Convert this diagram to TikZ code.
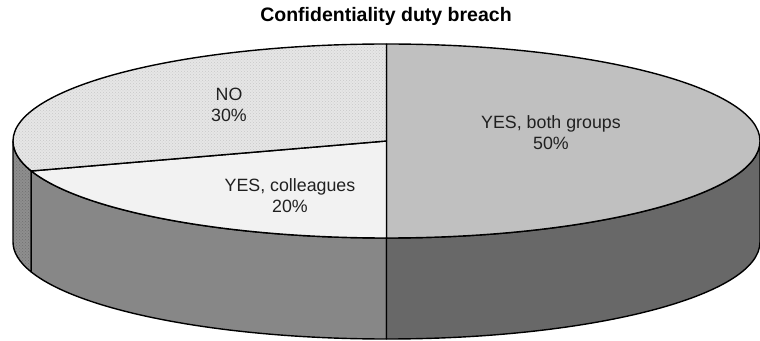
\documentclass[tikz,border=0pt]{standalone}
\usepackage{fontspec}
\setmainfont{Liberation Sans}
\usetikzlibrary{patterns}
\definecolor{notop}{HTML}{E6E6E6}
\definecolor{nodots}{HTML}{C8C8C8}
\definecolor{noside}{HTML}{8E8E8E}
\definecolor{nosidedots}{HTML}{707070}
\definecolor{coltop}{HTML}{F2F2F2}
\definecolor{colside}{HTML}{878787}
\definecolor{bothtop}{HTML}{C0C0C0}
\definecolor{bothside}{HTML}{686868}
\definecolor{lbltext}{HTML}{202020}
\begin{document}
\begin{tikzpicture}[x=1pt,y=1pt,
  slice/.style={draw=black, line width=1.4pt, line join=round},
  lbl/.style={align=center, font=\fontsize{17.8}{21}\selectfont, text=lbltext, inner sep=0pt},
  ttl/.style={font=\fontsize{19.5}{23}\selectfont\bfseries, text=black, inner sep=0pt}]
\useasboundingbox (0,0) rectangle (760,340);
\fill[white] (0,0) rectangle (760,340);
\coordinate (C) at (386.5,199);
% side faces
\draw[slice, preaction={fill=noside}, preaction={pattern=crosshatch dots, pattern color=nosidedots}]
  (C) ++(180:373.5 and 97) arc[start angle=180, end angle=198, x radius=373.5, y radius=97]
  -- ++(0,-101) arc[start angle=198, end angle=180, x radius=373.5, y radius=97] -- cycle;
\draw[slice, fill=colside]
  (C) ++(198:373.5 and 97) arc[start angle=198, end angle=270, x radius=373.5, y radius=97]
  -- ++(0,-101) arc[start angle=270, end angle=198, x radius=373.5, y radius=97] -- cycle;
\draw[slice, fill=bothside]
  (C) ++(270:373.5 and 97) arc[start angle=270, end angle=360, x radius=373.5, y radius=97]
  -- ++(0,-101) arc[start angle=360, end angle=270, x radius=373.5, y radius=97] -- cycle;
% top slices
\draw[slice, fill=bothtop]
  (C) -- ++(90:373.5 and 97) arc[start angle=90, end angle=-90, x radius=373.5, y radius=97] -- cycle;
\draw[slice, fill=coltop]
  (C) -- ++(198:373.5 and 97) arc[start angle=198, end angle=270, x radius=373.5, y radius=97] -- cycle;
\draw[slice, preaction={fill=notop}, preaction={pattern=crosshatch dots, pattern color=nodots}]
  (C) -- ++(90:373.5 and 97) arc[start angle=90, end angle=198, x radius=373.5, y radius=97] -- cycle;
% labels
\node[ttl, anchor=base] (title) at (386,318) {Confidentiality duty breach};
\node[lbl] (no) at (229,235) {NO\\30\%};
\node[lbl] (col) at (290,144.5) {YES, colleagues\\20\%};
\node[lbl] (both) at (551,207.5) {YES, both groups\\50\%};
\end{tikzpicture}
\end{document}
